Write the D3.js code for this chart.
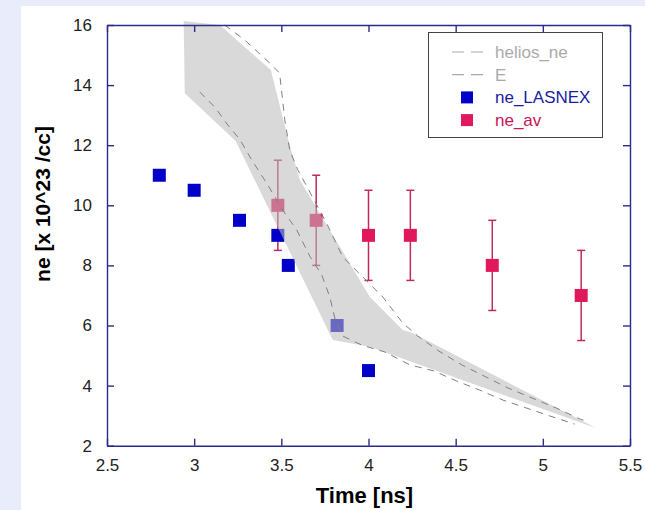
<!DOCTYPE html>
<html>
<head>
<meta charset="utf-8">
<script src="https://cdn.jsdelivr.net/npm/d3@7"></script>
<style>
  body { margin: 0; background: #e9edfb; }
  svg { display: block; font-family: 'Liberation Sans', Arial, sans-serif; }
  .tick text { font-size: 17px; fill: #222; }
  .axis .domain, .axis .tick line { stroke: #2b2b8c; stroke-width: 1.4; }
  .axis-label { font-weight: bold; fill: #000; }
  .sim-line { fill: none; stroke: #808080; stroke-width: 1; stroke-dasharray: 7,6; }
</style>
</head>
<body>
<svg width="645" height="510"></svg>
<script>
// tick values
const xTicks = [2.5, 3, 3.5, 4, 4.5, 5, 5.5];
const yTicks = [2, 4, 6, 8, 10, 12, 14, 16];

// ne_LASNEX (blue squares)
const lasnexTime = [2.8, 3.0, 3.26, 3.48, 3.54, 3.82, 4.0];
const lasnexNe = [11, 10.5, 9.5, 9, 8, 6, 4.5];

// ne_av (red squares with error bars)
const avTime = [3.48, 3.7, 4.0, 4.24, 4.71, 5.22];
const avNe = [10, 9.5, 9, 9, 8, 7];
const avErr = [1.5, 1.5, 1.5, 1.5, 1.5, 1.5];

// helios_ne dashed curve
const heliosTime = [3.175, 3.29, 3.434, 3.49, 3.52, 3.548, 3.594, 3.62, 3.759, 3.852, 4.082, 4.197, 4.283, 4.403, 4.535, 4.673, 4.8, 4.937, 5.075, 5.212, 5.26];
const heliosNe = [16.0, 15.5, 14.73, 14.4, 12.84, 11.84, 11.18, 10.91, 9.41, 8.28, 6.95, 6.08, 5.65, 5.15, 4.69, 4.29, 3.92, 3.59, 3.26, 2.89, 2.79];

// E dashed curve
const eTime = [3.032, 3.118, 3.193, 3.261, 3.33, 3.422, 3.508, 3.588, 3.663, 3.732, 3.778, 3.812, 3.852, 3.961, 4.093, 4.237, 4.374, 4.506, 4.638, 4.77, 4.908, 5.04, 5.183];
const eNe = [13.77, 13.27, 12.67, 12.2, 11.51, 10.68, 9.84, 9.18, 8.31, 7.68, 6.95, 6.12, 5.65, 5.35, 5.12, 4.69, 4.49, 4.15, 3.85, 3.52, 3.25, 2.99, 2.72];

// shaded envelope outline (upper edge then lower edge back)
const bandTime = [2.94, 3.147, 3.44, 3.54, 3.606, 4.007, 4.196, 4.254, 5.304, 4.007, 3.795, 3.238, 2.946];
const bandNe = [16.13, 16.0, 14.5, 12.17, 10.84, 6.96, 5.85, 5.75, 2.59, 5.29, 5.52, 12.14, 13.73];

// legend
const legendNames = ['helios_ne', 'E', 'ne_LASNEX', 'ne_av'];
const legendKinds = ['dash', 'dash', 'square', 'square'];
const legendColors = ['#a9a9a9', '#a9a9a9', '#1c1ca0', '#c8145a'];
const markerColors = ['#a9a9a9', '#a9a9a9', '#0000c8', '#e0185c'];

const blue = '#0000c8';
const red = '#e0185c';
const errColor = '#c02a5e';

const svg = d3.select('svg');
const width = +svg.attr('width');
const height = +svg.attr('height');

const margin = { top: 25, right: 15, bottom: 64, left: 107 };
const innerWidth = 630 - margin.left;
const innerHeight = 445.7 - margin.top;

svg.append('rect')
    .attr('x', 21).attr('y', 6)
    .attr('width', width - 21).attr('height', height - 6)
    .attr('fill', '#fff');

const g = svg.append('g')
    .attr('transform', `translate(${margin.left},${margin.top})`);

const xScale = d3.scaleLinear().domain([2.5, 5.5]).range([0, innerWidth]);
const yScale = d3.scaleLinear().domain([2, 16]).range([innerHeight, 0]);

//axes, ticks pointing inward on all four sides
const addingAxes = () => {
    g.append('g').attr('class', 'axis')
        .attr('transform', `translate(0,${innerHeight})`)
        .call(d3.axisBottom(xScale).tickValues(xTicks).tickSize(-7).tickSizeOuter(0).tickPadding(13).tickFormat(d3.format('')));
    g.append('g').attr('class', 'axis')
        .call(d3.axisLeft(yScale).tickValues(yTicks).tickSize(-7).tickSizeOuter(0).tickPadding(15));

    // mirrored ticks, no labels
    const topG = g.append('g').attr('class', 'axis')
        .call(d3.axisTop(xScale).tickValues(xTicks).tickSize(-7).tickSizeOuter(0));
    topG.selectAll('.tick text').remove();
    const rightG = g.append('g').attr('class', 'axis')
        .attr('transform', `translate(${innerWidth},0)`)
        .call(d3.axisRight(yScale).tickValues(yTicks).tickSize(-7).tickSizeOuter(0));
    rightG.selectAll('.tick text').remove();

    svg.append('text')
        .attr('class', 'axis-label')
        .attr('x', margin.left + innerWidth / 2 - 4)
        .attr('y', 503)
        .attr('text-anchor', 'middle')
        .style('font-size', '22px')
        .text('Time [ns]');

    svg.append('text')
        .attr('class', 'axis-label')
        .attr('transform', 'translate(50,204) rotate(-90)')
        .attr('text-anchor', 'middle')
        .style('font-size', '21px')
        .text('ne [x 10^23 /cc]');
};

const render = () => {
    // error bars for ne_av
    const bars = g.append('g');
    avTime.forEach((t, i) => {
        const cx = xScale(t);
        const y0 = yScale(avNe[i] - avErr[i]);
        const y1 = yScale(avNe[i] + avErr[i]);
        bars.append('line').attr('x1', cx).attr('x2', cx).attr('y1', y0).attr('y2', y1)
            .attr('stroke', errColor).attr('stroke-width', 1.5);
        [y0, y1].forEach(yy => {
            bars.append('line').attr('x1', cx - 4).attr('x2', cx + 4).attr('y1', yy).attr('y2', yy)
                .attr('stroke', errColor).attr('stroke-width', 1.5);
        });
    });

    g.append('g').selectAll('rect')
        .data(avTime)
        .join('rect')
        .attr('x', (d, i) => xScale(d) - 6.5)
        .attr('y', (d, i) => yScale(avNe[i]) - 6.5)
        .attr('width', 13).attr('height', 13)
        .attr('fill', red);

    g.append('g').selectAll('rect')
        .data(lasnexTime)
        .join('rect')
        .attr('x', (d, i) => xScale(d) - 6.5)
        .attr('y', (d, i) => yScale(lasnexNe[i]) - 6.5)
        .attr('width', 13).attr('height', 13)
        .attr('fill', blue);

    // shaded envelope sits on top of the markers, semi transparent
    const area = d3.line()
        .x((d, i) => xScale(d))
        .y((d, i) => yScale(bandNe[i]));
    g.append('path')
        .attr('d', area(bandTime) + 'Z')
        .attr('fill', '#bcbcbc')
        .attr('fill-opacity', 0.56);

    const line = (ts, vs) => d3.line()
        .x(d => xScale(d))
        .y((d, i) => yScale(vs[i]))(ts);

    g.append('path').attr('class', 'sim-line').attr('d', line(heliosTime, heliosNe));
    g.append('path').attr('class', 'sim-line').attr('d', line(eTime, eNe));
};

//legend box in the upper right
const addingLegend = () => {
    const lg = svg.append('g').attr('transform', 'translate(428,32)');
    lg.append('rect')
        .attr('x', 0.5).attr('y', 0.5)
        .attr('width', 174).attr('height', 105)
        .attr('fill', '#fff')
        .attr('stroke', '#444')
        .attr('stroke-width', 1);

    legendNames.forEach((name, i) => {
        const yy = 20 + i * 22.7;
        if (legendKinds[i] === 'dash') {
            lg.append('line')
                .attr('x1', 24).attr('x2', 57).attr('y1', yy).attr('y2', yy)
                .attr('stroke', markerColors[i]).attr('stroke-width', 1.2)
                .attr('stroke-dasharray', '12,7');
        } else {
            lg.append('rect')
                .attr('x', 33).attr('y', yy - 6)
                .attr('width', 12).attr('height', 12)
                .attr('fill', markerColors[i]);
        }
        lg.append('text')
            .attr('x', 67).attr('y', yy + 6)
            .style('font-size', '17px')
            .attr('fill', legendColors[i])
            .text(name);
    });
};

render();
addingAxes();
addingLegend();
</script>
</body>
</html>
